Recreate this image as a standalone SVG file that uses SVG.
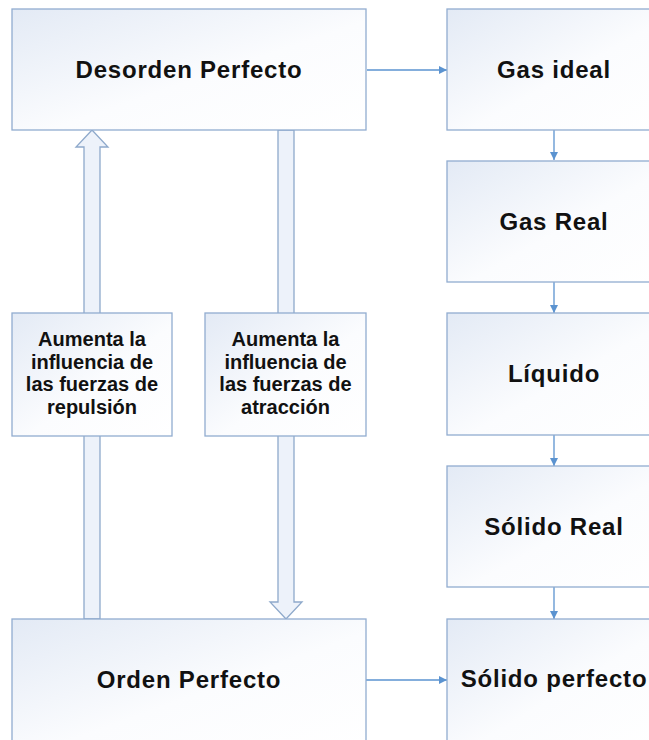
<svg xmlns="http://www.w3.org/2000/svg" width="649" height="740" viewBox="0 0 649 740">
<defs>
<linearGradient id="bg" x1="0" y1="0" x2="1" y2="1">
<stop offset="0" stop-color="#e3eaf5"/>
<stop offset="0.55" stop-color="#fbfcfe"/>
<stop offset="1" stop-color="#ffffff"/>
</linearGradient>
<marker id="ah" viewBox="0 0 10 10" refX="10" refY="5" markerWidth="8" markerHeight="8" markerUnits="userSpaceOnUse" orient="auto">
<path d="M0,0 L10,5 L0,10 Z" fill="#5b93d0"/>
</marker>
</defs>
<style>
.box{fill:url(#bg);stroke:#91acd0;stroke-width:1.3}
.big{font-family:"Liberation Sans",Arial,sans-serif;font-weight:bold;font-size:24px;letter-spacing:0.8px;fill:#111;text-anchor:middle}
.sm{font-family:"Liberation Sans",Arial,sans-serif;font-weight:bold;font-size:20px;fill:#111;text-anchor:middle}
.con{stroke:#5b93d0;stroke-width:1.3;fill:none}
.blk{fill:#edf2fa;stroke:#8ea9cb;stroke-width:1.3}
</style>
<rect width="649" height="740" fill="#ffffff"/>
<g id="block-arrows">
<polygon class="blk" points="92,130 108,147 100,147 100,619 84,619 84,147 76,147"/>
<polygon class="blk" points="278,130 294,130 294,602 302,602 286,619 270,602 278,602"/>
</g>
<g id="connectors">
<line class="con" x1="367" y1="70" x2="447" y2="70" marker-end="url(#ah)"/>
<line class="con" x1="554" y1="130" x2="554" y2="160" marker-end="url(#ah)"/>
<line class="con" x1="554" y1="282" x2="554" y2="313" marker-end="url(#ah)"/>
<line class="con" x1="554" y1="435" x2="554" y2="466" marker-end="url(#ah)"/>
<line class="con" x1="554" y1="587" x2="554" y2="619" marker-end="url(#ah)"/>
<line class="con" x1="366" y1="680" x2="447" y2="680" marker-end="url(#ah)"/>
</g>
<g id="desorden">
<rect class="box" x="12" y="9" width="354" height="121"/>
<text class="big" x="189" y="78">Desorden Perfecto</text>
</g>
<g id="gas-ideal">
<rect class="box" x="447" y="9" width="214" height="121"/>
<text class="big" x="554" y="78">Gas ideal</text>
</g>
<g id="gas-real">
<rect class="box" x="447" y="161" width="214" height="121"/>
<text class="big" x="554" y="230">Gas Real</text>
</g>
<g id="liquido">
<rect class="box" x="447" y="313" width="214" height="122"/>
<text class="big" x="554" y="382">Líquido</text>
</g>
<g id="solido-real">
<rect class="box" x="447" y="466" width="214" height="121"/>
<text class="big" x="554" y="535">Sólido Real</text>
</g>
<g id="solido-perfecto">
<rect class="box" x="447" y="619" width="214" height="130"/>
<text class="big" x="554" y="687">Sólido perfecto</text>
</g>
<g id="orden">
<rect class="box" x="12" y="619" width="354" height="130"/>
<text class="big" x="189" y="688">Orden Perfecto</text>
</g>
<g id="repulsion">
<rect class="box" x="12" y="313" width="160" height="123"/>
<text class="sm" x="92" y="346">Aumenta la</text>
<text class="sm" x="92" y="368.5">influencia de</text>
<text class="sm" x="92" y="391">las fuerzas de</text>
<text class="sm" x="92" y="413.5">repulsión</text>
</g>
<g id="atraccion">
<rect class="box" x="205" y="313" width="161" height="123"/>
<text class="sm" x="285.5" y="346">Aumenta la</text>
<text class="sm" x="285.5" y="368.5">influencia de</text>
<text class="sm" x="285.5" y="391">las fuerzas de</text>
<text class="sm" x="285.5" y="413.5">atracción</text>
</g>
</svg>
